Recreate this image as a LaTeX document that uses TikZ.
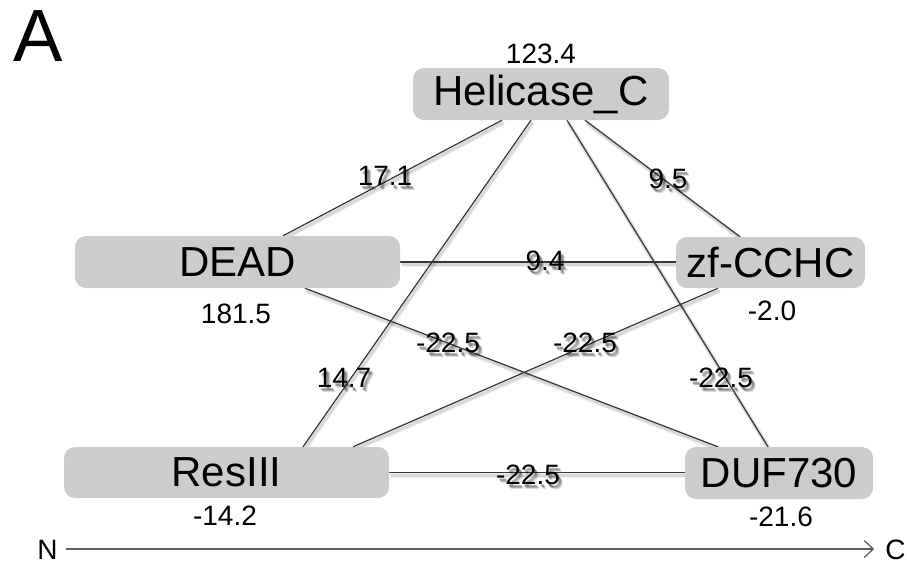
\documentclass[tikz,border=0pt]{standalone}
\usepackage{fontspec}
\setmainfont{Liberation Sans}
\usetikzlibrary{arrows.meta}
\definecolor{boxgray}{RGB}{204,204,204}
\definecolor{linkgray}{RGB}{55,55,55}
\definecolor{axisgray}{RGB}{95,95,95}
\pgfdeclarelayer{bg}
\pgfsetlayers{bg,main}
% edge score with a soft drop shadow
\newcommand\edgescore[3]{%
  \foreach \dx/\dy/\op in {4/5/0.14, 3/4/0.22, 2/3/0.26} {
    \node[escore, text=black, text opacity=\op] at ([shift={(\dx,\dy)}]#2) {#3};
  }
  \node[escore] (#1) at (#2) {#3};}
% connector with a soft shadow below it
\newcommand\linkpair[2]{%
  \draw[linkshadow, line width=5pt, opacity=0.06] #1 -- #2;
  \draw[linkshadow, line width=3pt, opacity=0.10] #1 -- #2;
  \draw[link] #1 -- #2;}
\begin{document}
\begin{tikzpicture}[x=1pt,y=-1pt,
  domain/.style={fill=boxgray, rounded corners=11pt, minimum width=#1,
    minimum height=52pt, inner sep=0pt, font=\fontsize{42}{50}\selectfont},
  nscore/.style={inner sep=0pt, font=\fontsize{28}{32}\selectfont},
  escore/.style={inner sep=0pt, font=\fontsize{28}{32}\selectfont},
  link/.style={draw=linkgray, line width=1.2pt},
  linkshadow/.style={draw=black, transform canvas={shift={(1.5pt,-2.5pt)}}},
  axisline/.style={draw=axisgray, line width=1.4pt,
    -{Straight Barb[length=9pt,width=17pt,line width=1.3pt]}}]
\useasboundingbox (0,0) rectangle (907,563);

% panel letter
\node[inner sep=0pt, font=\fontsize{74}{80}\selectfont] (panel) at (38,36.5) {A};

% domains
\node[domain=256pt] (hc)   at (541,94)     {Helicase\_C};
\node[domain=325pt] (dead) at (237.5,262)  {DEAD};
\node[domain=189pt, minimum height=51pt] (zf) at (770.5,262.5) {zf-CCHC};
\node[domain=325pt, minimum height=51pt] (res) at (226.5,472.5) {ResIII};
\node[domain=188pt] (duf)  at (779,473)    {DUF730};

% domain scores
\node[nscore] (shc)   at (541,54)  {123.4};
\node[nscore] (sdead) at (236,314) {181.5};
\node[nscore] (szf)   at (772,311) {-2.0};
\node[nscore] (sres)  at (225,516) {-14.2};
\node[nscore] (sduf)  at (781,517) {-21.6};

% connectors
\begin{pgfonlayer}{bg}
\linkpair{([xshift=-39pt]hc.south)}{([xshift=45.5pt]dead.north)}
\linkpair{([xshift=-10pt]hc.south)}{([xshift=76.5pt]res.north)}
\linkpair{([xshift=26pt]hc.south)}{([xshift=-11pt]duf.north)}
\linkpair{([xshift=44pt]hc.south)}{([xshift=-30.5pt]zf.north)}
\linkpair{(dead.east)}{(dead.east -| zf.west)}
\linkpair{([xshift=67.5pt]dead.south)}{([xshift=-61pt]duf.north)}
\linkpair{([xshift=-52.5pt]zf.south)}{([xshift=126.5pt]res.north)}
\linkpair{(res.east)}{(res.east -| duf.west)}
\end{pgfonlayer}

% connector scores
\edgescore{e1}{385,176}{17.1}
\edgescore{e2}{668,179}{9.5}
\edgescore{e3}{545,261}{9.4}
\edgescore{e4}{448,343}{-22.5}
\edgescore{e5}{585,343}{-22.5}
\edgescore{e6}{344,378}{14.7}
\edgescore{e7}{721,378}{-22.5}
\edgescore{e8}{528,475}{-22.5}

% N to C axis
\node[nscore] (nN) at (47.5,549.5) {N};
\node[nscore] (nC) at (895.5,549.5) {C};
\draw[axisline] ([xshift=8pt]nN.east |- 0,549) -- ([xshift=-11pt]nC.west |- 0,549);
\end{tikzpicture}
\end{document}
